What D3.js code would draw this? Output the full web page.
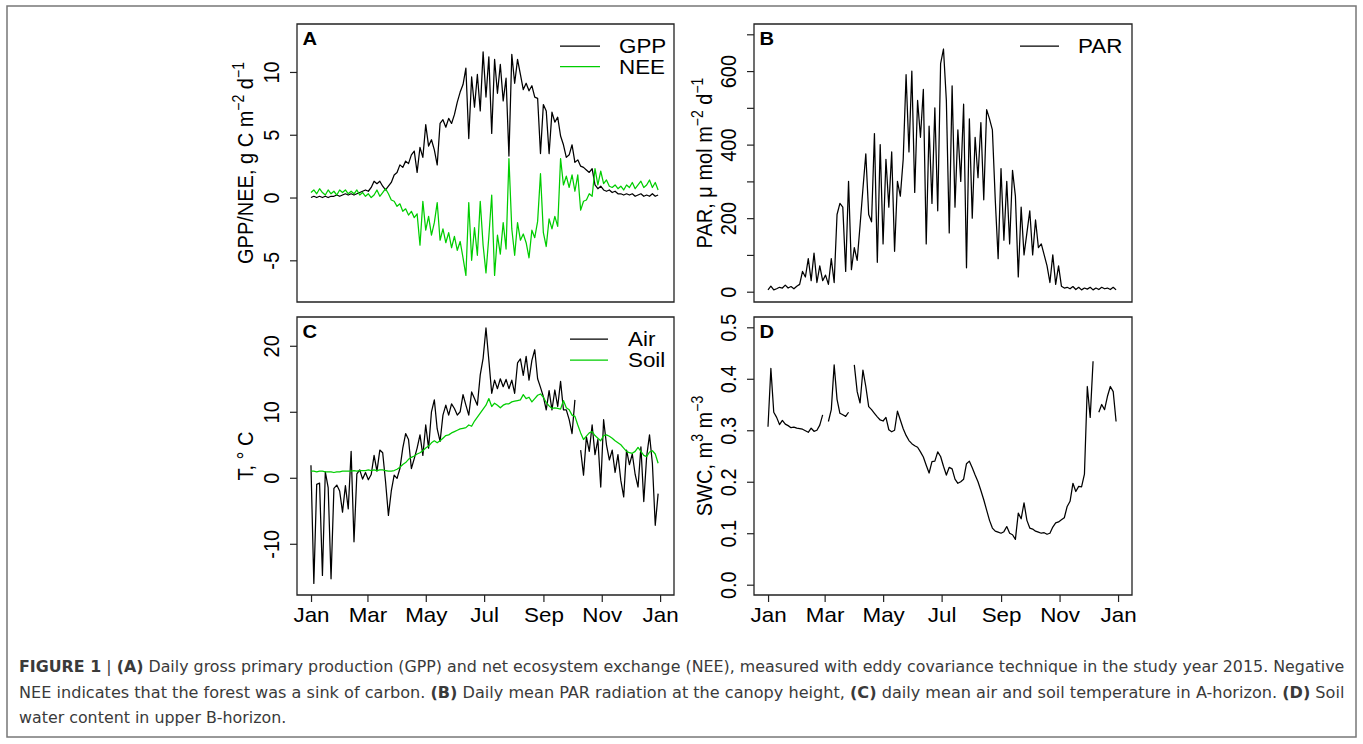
<!DOCTYPE html>
<html>
<head>
<meta charset="utf-8">
<script src="https://cdn.jsdelivr.net/npm/d3@7"></script>
<style>
  body { margin: 0; background: #fff; }
  svg text { font-family: "Liberation Sans", Arial, sans-serif; font-size: 20px; fill: #000; }
  .caption text { font-family: "Liberation Sans Narrow", "DejaVu Sans Condensed", "Liberation Sans", sans-serif; font-size: 16px; fill: #3a3a3a; }
</style>
</head>
<body>
<svg id="fig" width="1363" height="744"></svg>
<script>
// daily series, every 3rd day of 2015 (day 0 = Jan 1)
var sampleDays = d3.range(0, 366, 3);

var gpp = [
  0.0, 0.1, 0.0, 0.1, 0.0, 0.1, 0.0, 0.1, 0.1, 0.2,
  0.1, 0.2, 0.3, 0.2, 0.3, 0.2, 0.3, 0.4, 0.5, 0.6,
  0.5, 0.8, 1.3, 1.1, 1.3, 0.9, 0.6, 0.9, 1.2, 1.8,
  2.0, 2.6, 2.4, 2.9, 2.7, 3.4, 3.7, 2.0, 4.0, 3.2,
  5.8, 4.1, 4.6, 3.8, 2.6, 5.9, 6.2, 5.6, 6.3, 5.9,
  6.6, 7.6, 8.4, 9.0, 10.3, 4.7, 9.6, 7.2, 9.8, 6.9,
  11.6, 8.0, 11.2, 5.1, 11.0, 8.3, 10.6, 7.7, 9.5, 3.3,
  11.4, 9.1, 11.0, 9.8, 8.6, 9.1, 8.5, 8.9, 8.0, 7.9,
  3.5, 7.4, 6.9, 3.5, 6.8, 6.0, 6.4, 4.9, 4.2, 3.2,
  3.4, 4.2, 2.8, 3.0, 2.5, 2.4, 2.2, 2.0, 2.3, 1.0,
  0.7, 0.9, 0.6, 0.5, 0.6, 0.4, 0.5, 0.3, 0.3, 0.2,
  0.3, 0.2, 0.3, 0.1, 0.2, 0.3, 0.1, 0.2, 0.1, 0.3,
  0.1, 0.2
];

var nee = [
  0.4, 0.6, 0.3, 0.7, 0.4, 0.2, 0.6, 0.3, 0.5, 0.2,
  0.6, 0.4, 0.6, 0.3, 0.5, 0.3, 0.6, 0.2, 0.4, 0.1,
  0.3, 0.0, 0.2, 0.6, 0.1, 0.4, 0.7, 0.3, -0.2, -0.3,
  -0.7, -0.5, -1.1, -0.9, -1.4, -1.1, -1.6, -1.3, -3.8, -0.3,
  -2.6, -1.5, -3.0, -2.0, -0.4, -3.4, -2.5, -3.6, -2.8, -4.0,
  -3.1, -4.2, -3.5, -4.8, -6.2, -0.4, -5.0, -2.4, -4.6, -0.3,
  -3.8, -6.0, -3.1, 0.2, -6.2, -3.0, -4.5, -2.0, -4.1, 3.1,
  -2.5, -4.6, -2.0, -3.4, -2.9, -3.6, -4.8, -2.6, -3.2, -1.9,
  1.9, -2.8, -3.9, -1.7, -2.5, -1.5, -2.3, 3.1, 1.0, 1.7,
  0.8, 1.8, 0.5, 1.8, -1.0, -0.3, -0.2, 0.3, 0.1, 2.3,
  1.0, 2.1, 1.1, 1.4, 0.9, 0.8, 1.0, 0.7, 0.9, 0.6,
  1.0, 0.8, 1.2, 0.7, 1.0, 1.3, 0.8, 1.0, 1.4, 0.8,
  1.2, 0.6
];

var par = [
  5, 15, 5, 8, 12, 10, 18, 10, 14, 8,
  15, 20, 55, 40, 90, 30, 105, 25, 70, 30,
  45, 20, 90, 25, 210, 240, 230, 55, 300, 60,
  120, 85, 180, 280, 375, 210, 190, 430, 80, 400,
  130, 360, 230, 380, 110, 300, 260, 360, 590, 380,
  600, 270, 520, 420, 550, 130, 450, 240, 500, 220,
  620, 660, 520, 160, 560, 230, 440, 300, 510, 65,
  470, 200, 420, 310, 460, 250, 495, 470, 440, 250,
  90, 335, 140, 300, 130, 330, 260, 40, 230, 100,
  160, 220, 100, 195, 120, 130, 100, 70, 25, 100,
  20, 70, 15, 10, 12, 8, 14, 6, 12, 5,
  10, 7, 12, 5, 10, 6, 12, 8, 10, 6,
  12, 5
];

var airT = [
  1.9, -16.0, -1.0, -0.8, -14.8, 0.9, -1.5, -15.3, -1.6, -1.1,
  -2.0, -5.2, -1.2, -4.7, 4.0, -9.7, 0.6, 1.2, -0.2, 0.8,
  -0.3, 0.5, 3.4, 1.0, 4.2, 3.8, -0.6, -5.7, -2.0, 0.4,
  -0.1, 1.4, 4.5, 6.7, 5.8, 1.4, 2.9, 4.5, 6.5, 3.4,
  8.0, 4.5, 10.0, 11.8, 7.4, 5.5, 9.5, 11.0, 9.5, 11.2,
  10.5, 9.5, 10.0, 12.6, 11.0, 9.5, 13.0, 12.0, 11.0, 15.6,
  18.1, 22.7, 17.8, 12.8, 14.8, 13.5, 15.0, 13.8, 14.9, 13.5,
  14.8, 12.8, 17.4, 18.0, 15.5, 18.4, 14.8, 17.8, 19.4, 15.0,
  13.7, 12.3, 10.3, 13.2, 10.3, 13.3, 10.8, 14.6, 10.3, 10.3,
  8.8, 6.7, 11.8, null, 4.2, 0.4, 6.2, 4.0, 8.0, 3.5,
  5.8, -1.4, 8.8, 5.0, 2.7, 4.2, 0.8, 3.5, -0.4, -2.9,
  4.2, 2.0, 3.6, 0.5, -1.4, 4.7, -3.6, 3.2, 6.5, 2.2,
  -7.2, -2.4
];

var soilT = [
  1.0, 1.0, 0.9, 1.0, 1.0, 0.9, 0.9, 0.9, 0.8, 0.9,
  0.9, 1.0, 1.0, 1.0, 1.0, 1.1, 1.0, 1.1, 1.1, 1.1,
  1.2, 1.1, 1.2, 1.1, 1.2, 1.2, 1.1, 1.0, 1.0, 1.1,
  1.3, 1.6, 2.0, 2.3, 2.8, 3.1, 3.3, 3.6, 3.8, 4.1,
  4.5, 4.8, 5.3, 5.6, 5.3, 5.6, 6.0, 6.4, 6.5, 6.8,
  7.0, 7.2, 7.4, 7.5, 7.6, 8.0, 7.8, 8.6, 9.2, 9.8,
  10.4, 11.0, 12.0, 10.8, 11.3, 11.0, 10.6, 11.0, 11.2, 11.2,
  11.5, 11.6, 11.7, 11.8, 12.6, 12.0, 12.2, 11.5, 12.0, 12.5,
  12.7, 12.2, 11.4, 10.9, 10.5, 10.6, 10.5, 10.4, 11.7, 10.6,
  10.3, 9.5, 9.3, 8.0, 6.8, 5.8, 6.3, 6.8, 7.0, 6.4,
  6.0, 5.6, 6.4, 6.5, 6.3, 6.0, 5.6, 5.3, 5.0, 4.5,
  4.0, 3.8, 3.7, 4.0, 4.6, 4.0, 3.4, 3.2, 3.9, 4.1,
  3.6, 2.2
];

var swc = [
  0.307, 0.420, 0.335, 0.325, 0.311, 0.319, 0.312, 0.309, 0.305, 0.306,
  0.304, 0.303, 0.302, 0.299, 0.296, 0.304, 0.298, 0.300, 0.310, 0.330,
  null, 0.317, 0.340, 0.427, 0.360, 0.333, 0.330, 0.327, 0.335, null,
  0.427, 0.375, 0.353, 0.417, 0.385, 0.346, 0.340, 0.333, 0.326, 0.320,
  0.318, 0.325, 0.301, 0.297, 0.300, 0.337, 0.320, 0.303, 0.290, 0.280,
  0.274, 0.270, 0.267, 0.258, 0.248, 0.232, 0.217, 0.239, 0.240, 0.258,
  0.249, 0.230, 0.213, 0.228, 0.225, 0.205, 0.197, 0.200, 0.205, 0.235,
  0.240, 0.227, 0.213, 0.200, 0.183, 0.165, 0.145, 0.125, 0.110, 0.104,
  0.102, 0.100, 0.103, 0.113, 0.100, 0.097, 0.088, 0.139, 0.128, 0.159,
  0.125, 0.110, 0.108, 0.104, 0.102, 0.100, 0.101, 0.098, 0.100, 0.112,
  0.120, 0.122, 0.126, 0.130, 0.152, 0.162, 0.197, 0.181, 0.191, 0.190,
  0.215, 0.385, 0.325, 0.434, null, 0.335, 0.350, 0.340, 0.366, 0.385,
  0.375, 0.317
];

var monthTicks = ["2015-01-01", "2015-03-01", "2015-05-01", "2015-07-01", "2015-09-01", "2015-11-01", "2016-01-01"];
var gppTicks = [-5, 0, 5, 10];
var parTicks = [0, 100, 200, 300, 400, 500, 600, 700];
var parLabels = [0, 200, 400, 600];
var tempTicks = [-10, 0, 10, 20];
var swcTicks = [0, 0.1, 0.2, 0.3, 0.4, 0.5];

var green = "#00cd00";

// the original figure is stretched sideways, so everything is drawn in a
// group scaled by SX; px() turns a screen x into that group's units
var SX = 1.12;
function px(x) { return x / SX; }

var parseDate = d3.timeParse("%Y-%m-%d");
var jan1 = parseDate("2015-01-01");

var svg = d3.select("#fig");

// outer frame round figure and caption
svg.append("rect")
    .attr("x", 7).attr("y", 6)
    .attr("width", 1349).attr("height", 731)
    .attr("fill", "none")
    .attr("stroke", "#777")
    .attr("stroke-width", 1.5);

var fig = svg.append("g").attr("transform", "scale(" + SX + ",1)");

function toSeries(vals) {
    return sampleDays.map(function(d, i) {
        return {date: d3.timeDay.offset(jan1, d), v: vals[i]};
    });
}

function drawPanel(p) {
    var L = p.box[0], T = p.box[1], R = p.box[2], B = p.box[3];
    var pad = (R - L) * 0.04 / 1.08;   // R's 4% axis expansion

    var x = d3.scaleTime()
        .domain([jan1, parseDate("2016-01-01")])
        .range([px(L + pad), px(R - pad)]);

    var yp = (p.ylim[1] - p.ylim[0]) * 0.04;
    var y = d3.scaleLinear()
        .domain([p.ylim[0] - yp, p.ylim[1] + yp])
        .range([B, T]);

    var g = fig.append("g");

    // lines
    var line = d3.line()
        .defined(function(d) { return d.v != null; })
        .x(function(d) { return x(d.date); })
        .y(function(d) { return y(d.v); });

    p.series.forEach(function(s) {
        g.append("path")
            .datum(toSeries(s.vals))
            .attr("d", line)
            .attr("fill", "none")
            .attr("stroke", s.color)
            .attr("stroke-width", 1.25)
            .attr("stroke-linejoin", "round")
            .attr("vector-effect", "non-scaling-stroke");
    });

    // box
    g.append("rect")
        .attr("x", px(L)).attr("y", T)
        .attr("width", px(R - L)).attr("height", B - T)
        .attr("fill", "none")
        .attr("stroke", "#222")
        .attr("stroke-width", 1.3)
        .attr("vector-effect", "non-scaling-stroke");

    // y axis, labels turned like R's las=0
    var yAxis = g.append("g")
        .attr("transform", "translate(" + px(L) + ",0)")
        .style("color", "#222")
        .call(d3.axisLeft(y).tickValues(p.yTicks).tickSize(px(7)).tickFormat(p.yFormat));
    yAxis.select(".domain").remove();
    yAxis.selectAll("line").attr("vector-effect", "non-scaling-stroke").attr("stroke-width", 1.2);
    yAxis.selectAll("text")
        .attr("x", 0).attr("dy", 0)
        .attr("text-anchor", "middle")
        .attr("transform", "translate(" + px(-18) + ",0) rotate(-90)");

    // x axis only on the lower row
    if (p.xAxis) {
        var xAxis = g.append("g")
            .attr("transform", "translate(0," + B + ")")
            .style("color", "#222")
            .call(d3.axisBottom(x).tickValues(monthTicks.map(parseDate)).tickSize(7).tickFormat(d3.timeFormat("%b")));
        xAxis.select(".domain").remove();
        xAxis.selectAll("line").attr("vector-effect", "non-scaling-stroke").attr("stroke-width", 1.2);
        xAxis.selectAll("text").attr("y", 27).attr("dy", 0);
    }

    // y axis title with superscripts
    var title = g.append("text")
        .attr("text-anchor", "middle")
        .attr("transform", "translate(" + px(p.titleX) + "," + (T + B) / 2 + ") rotate(-90)");
    p.title.forEach(function(part) {
        var ts = title.append("tspan").text(part[0]);
        if (part[1] === "sup") ts.attr("dy", -8).style("font-size", "14px");
        if (part[1] === "back") ts.attr("dy", 8);
    });

    // panel letter
    g.append("text")
        .attr("x", px(L + 5.5))
        .attr("y", T + 21.5)
        .style("font-weight", "bold")
        .style("font-size", "18px")
        .text(p.letter);

    // legend
    p.legend.items.forEach(function(it, i) {
        var ly = p.legend.y0 + i * p.legend.step;
        g.append("line")
            .attr("x1", px(p.legend.lineX[0])).attr("x2", px(p.legend.lineX[1]))
            .attr("y1", ly).attr("y2", ly)
            .attr("stroke", it[1])
            .attr("stroke-width", 1.25)
            .attr("vector-effect", "non-scaling-stroke");
        g.append("text")
            .attr("x", px(p.legend.textX))
            .attr("y", ly + 7.5)
            .text(it[0]);
    });
}

var plain = function(d) { return String(d); };

drawPanel({
    letter: "A", box: [297, 24, 674, 302], ylim: [-7.5, 13],
    yTicks: gppTicks, yFormat: plain, xAxis: false, titleX: 253,
    title: [["GPP/NEE, g C m"], ["\u22122", "sup"], [" d", "back"], ["\u22121", "sup"]],
    series: [{vals: gpp, color: "#000"}, {vals: nee, color: green}],
    legend: {lineX: [560, 600], textX: 619, y0: 46, step: 20.7, items: [["GPP", "#000"], ["NEE", green]]}
});

drawPanel({
    letter: "B", box: [754, 24, 1132, 302], ylim: [0, 700],
    yTicks: parTicks, yFormat: function(d) { return parLabels.indexOf(d) >= 0 ? String(d) : ""; },
    xAxis: false, titleX: 712,
    title: [["PAR, \u03bc mol m"], ["\u22122", "sup"], [" d", "back"], ["\u22121", "sup"]],
    series: [{vals: par, color: "#000"}],
    legend: {lineX: [1020, 1059], textX: 1078, y0: 46, step: 20.7, items: [["PAR", "#000"]]}
});

drawPanel({
    letter: "C", box: [297, 317, 674, 595], ylim: [-16.2, 22.8],
    yTicks: tempTicks, yFormat: plain, xAxis: true, titleX: 253,
    title: [["T, \u00b0 C"]],
    series: [{vals: airT, color: "#000"}, {vals: soilT, color: green}],
    legend: {lineX: [570, 608], textX: 628, y0: 339, step: 21, items: [["Air", "#000"], ["Soil", green]]}
});

drawPanel({
    letter: "D", box: [754, 317, 1132, 595], ylim: [0, 0.5],
    yTicks: swcTicks, yFormat: d3.format(".1f"), xAxis: true, titleX: 712,
    title: [["SWC, m"], ["3", "sup"], [" m", "back"], ["\u22123", "sup"]],
    series: [{vals: swc, color: "#000"}],
    legend: {lineX: [0, 0], textX: 0, y0: 0, step: 0, items: []}
});

// caption
var capLines = [
    [["FIGURE 1", 1], [" | ", 0], ["(A)", 1], [" Daily gross primary production (GPP) and net ecosystem exchange (NEE), measured with eddy covariance technique in the study year 2015. Negative", 0]],
    [["NEE indicates that the forest was a sink of carbon. ", 0], ["(B)", 1], [" Daily mean PAR radiation at the canopy height, ", 0], ["(C)", 1], [" daily mean air and soil temperature in A-horizon. ", 0], ["(D)", 1], [" Soil", 0]],
    [["water content in upper B-horizon.", 0]]
];
var capY = [672, 698, 723];
var capWidth = 1326;

var cap = svg.append("g").attr("class", "caption");
var capTexts = capLines.map(function(parts, i) {
    var t = cap.append("text").attr("x", 0).attr("y", 0);
    parts.forEach(function(p) {
        t.append("tspan").text(p[0]).style("font-weight", p[1] ? "bold" : "normal");
    });
    return t;
});
// the first two lines are justified to the full width
var k = capTexts.slice(0, 2).map(function(t) { return capWidth / t.node().getComputedTextLength(); });
capTexts.forEach(function(t, i) {
    var s = i < 2 ? k[i] : Math.min(k[0], k[1]);
    t.attr("transform", "translate(19," + capY[i] + ") scale(" + s + ",1)");
});
</script>
</body>
</html>
